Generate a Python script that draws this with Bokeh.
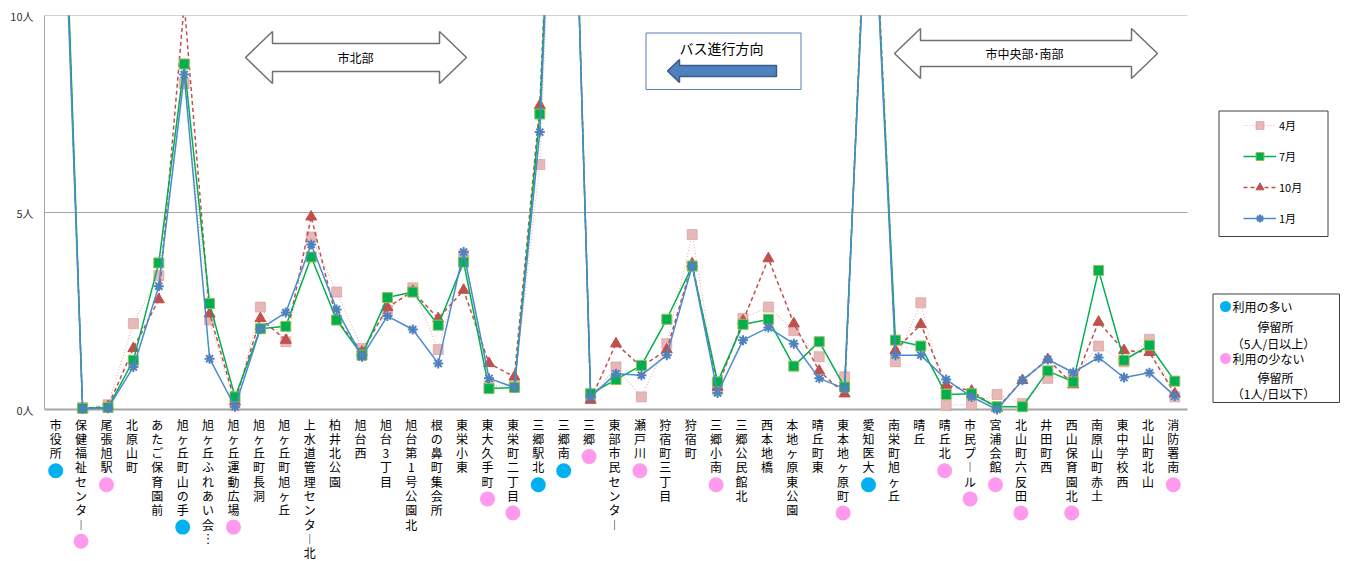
from bokeh.plotting import figure
from bokeh.models import Range1d, LinearAxis, FixedTicker, Legend, LegendItem
from bokeh.core.properties import value
from bokeh.embed import file_html
from bokeh.resources import INLINE

# ---------------- data ----------------
stops = ["市役所", "保健福祉センター", "尾張旭駅", "北原山町", "あたご保育園前",
         "旭ヶ丘町山の手", "旭ヶ丘ふれあい会…", "旭ヶ丘運動広場", "旭ヶ丘町長洞", "旭ヶ丘町旭ヶ丘",
         "上水道管理センター北", "柏井北公園", "旭台西", "旭台3丁目", "旭台第1号公園北",
         "根の鼻町集会所", "東栄小東", "東大久手町", "東栄町二丁目", "三郷駅北",
         "三郷南", "三郷", "東部市民センター", "瀬戸川", "狩宿町三丁目",
         "狩宿町", "三郷小南", "三郷公民館北", "西本地橋", "本地ヶ原東公園",
         "晴丘町東", "東本地ヶ原町", "愛知医大", "南栄町旭ヶ丘", "晴丘",
         "晴丘北", "市民プール", "宮浦会館", "北山町六反田", "井田町西",
         "西山保育園北", "南原山町赤土", "東中学校西", "北山町北山", "消防署南"]

apr = [18.5, 0.05, 0.12, 2.18, 3.40, 8.27, 2.27, 0.10, 2.60, 1.72,
       4.38, 2.98, 1.55, 2.52, 3.09, 1.52, 3.91, 0.60, 0.60, 6.22,
       21.5, 0.28, 1.08, 0.32, 1.67, 4.44, 0.50, 2.31, 2.60, 2.00,
       1.34, 0.83, 15.0, 1.21, 2.71, 0.11, 0.13, 0.38, 0.15, 0.79,
       0.85, 1.61, 1.21, 1.78, 0.32]
jul = [19.0, 0.03, 0.05, 1.25, 3.72, 8.77, 2.69, 0.32, 2.05, 2.11,
       3.87, 2.27, 1.38, 2.84, 2.98, 2.14, 3.74, 0.53, 0.56, 7.50,
       22.0, 0.40, 0.76, 1.12, 2.29, 3.64, 0.70, 2.16, 2.29, 1.10,
       1.72, 0.57, 15.0, 1.76, 1.61, 0.38, 0.40, 0.07, 0.07, 0.98,
       0.70, 3.53, 1.25, 1.63, 0.72]
octo = [18.5, 0.02, 0.08, 1.55, 2.79, 10.3, 2.43, 0.20, 2.31, 1.76,
        4.89, 2.28, 1.46, 2.59, 3.00, 2.31, 3.03, 1.17, 0.83, 7.72,
        22.5, 0.24, 1.67, 1.08, 1.52, 3.70, 0.57, 2.25, 3.83, 2.18,
        0.98, 0.40, 15.5, 1.50, 2.16, 0.62, 0.47, 0.03, 0.74, 1.27,
        0.63, 2.22, 1.50, 1.45, 0.40]
jan = [18.0, 0.02, 0.03, 1.08, 3.13, 8.50, 1.29, 0.07, 2.05, 2.46,
       4.19, 2.54, 1.34, 2.37, 2.03, 1.17, 4.00, 0.79, 0.56, 7.04,
       22.0, 0.32, 0.91, 0.87, 1.38, 3.64, 0.42, 1.76, 2.08, 1.67,
       0.79, 0.53, 15.0, 1.38, 1.38, 0.76, 0.32, 0.00, 0.74, 1.27,
       0.94, 1.32, 0.81, 0.93, 0.34]

month_labels = ["4月", "7月", "10月", "1月"]
y_ticks = [0, 5, 10]
y_tick_labels = ["0人", "5人", "10人"]

heavy_stops = ["市役所", "旭ヶ丘町山の手", "三郷駅北", "三郷南", "愛知医大"]
light_stops = ["保健福祉センター", "尾張旭駅", "旭ヶ丘運動広場", "東大久手町", "東栄町二丁目",
               "三郷", "瀬戸川", "三郷小南", "東本地ヶ原町", "晴丘北", "市民プール",
               "宮浦会館", "北山町六反田", "西山保育園北", "消防署南"]
legend2_lines = [["利用の多い", "停留所", "（5人/日以上）"],
                 ["利用の少ない", "停留所", "（1人/日以下）"]]
region_labels = ["市北部", "市中央部･南部"]
direction_label = "バス進行方向"

# ---------------- layout helpers ----------------
W, H = 1346, 561
PX, PY = 25.4, 39.4          # pixels per category / per person
FRAME_L, FRAME_T, FRAME_B = 44, 15, H
Y0_PAGE = 409
FONT = value("Noto Sans CJK JP")
PITCH = 14.1


def X(px):
    return -0.5 + (px - FRAME_L) / PX


def Y(py):
    return (Y0_PAGE - py) / PY


p = figure(width=W, height=H, output_backend="svg", toolbar_location=None,
           x_range=Range1d(-0.5, X(W)),
           y_range=Range1d(Y(FRAME_B), 10),
           min_border_left=FRAME_L, min_border_right=0, min_border_top=FRAME_T,
           min_border_bottom=0, x_axis_type=None, y_axis_type=None)
p.outline_line_color = None
p.background_fill_color = "white"
p.border_fill_color = "white"

yaxis = LinearAxis(ticker=FixedTicker(ticks=y_ticks), bounds=(0, 10),
                   axis_line_color="#A6A6A6", axis_line_width=1,
                   major_tick_line_color=None, minor_tick_line_color=None,
                   major_tick_out=0, major_tick_in=0, minor_tick_out=0,
                   major_label_standoff=11,
                   major_label_overrides={t: l for t, l in zip(y_ticks, y_tick_labels)},
                   major_label_text_font="Noto Sans CJK JP",
                   major_label_text_font_size="11px",
                   major_label_text_color="#333333")
p.add_layout(yaxis, "left")

n = len(stops)
xs = list(range(n))
x_end = n - 0.5

# grid lines & baseline
gy = y_ticks[1:]
p.segment(x0=[-0.5] * len(gy), y0=gy, x1=[x_end] * len(gy), y1=gy,
          line_color="#A6A6A6", line_width=1)
p.segment(x0=[-0.5], y0=[0], x1=[x_end], y1=[0], line_color="#A6A6A6", line_width=2)

# ---------------- series ----------------
l4 = p.line(xs, apr, line_color="#E6B9B8", line_width=1.2, line_dash="1 2")
s4 = p.scatter(xs, apr, marker="square", size=10, fill_color="#E6B9B8",
               line_color="#D99694", line_alpha=0.6, line_width=1)
l10 = p.line(xs, octo, line_color="#C0504D", line_width=1.5, line_dash="4 3")
s10 = p.scatter(xs, octo, marker="triangle", size=11, fill_color="#C0504D",
                line_color="#C0504D")
l7 = p.line(xs, jul, line_color="#00B050", line_width=1.5)
s7 = p.scatter(xs, jul, marker="square", size=10, fill_color="#00B050",
               line_color="#9BBB59", line_width=1)
l1 = p.line(xs, jan, line_color="#4A8AD0", line_width=1.5)
s1 = p.scatter(xs, jan, marker="asterisk", size=10, line_color="#4F81BD", line_width=2)

# ---------------- category labels (vertical) ----------------
vert_map = {"ー": "︱", "…": "︙"}
vlabels = ["\n".join(vert_map.get(c, c) for c in s) for s in stops]
p.text(x=xs, y=[Y(415)] * n, text=vlabels, x_offset=-1.5,
       text_align="center", text_baseline="top", text_font=FONT,
       text_font_size="12px", text_line_height=0.841, text_color="#000000")

# usage markers under labels
DX = -1.5 / PX


def marker_y(name):
    return Y(424 + (len(name) - 1) * PITCH + 18)


hx = [stops.index(s) + DX for s in heavy_stops]
hy = [marker_y(s) for s in heavy_stops]
lx = [stops.index(s) + DX for s in light_stops]
ly = [marker_y(s) for s in light_stops]
p.scatter(hx, hy, size=15, fill_color="#00B0F0", line_color=None)
p.scatter(lx, ly, size=15, fill_color="#FF99EE", line_color=None)


# ---------------- region double arrows ----------------
def double_arrow(l, r, cy, hh, sh, hw):
    pts = [(l, cy), (l + hw, cy - hh), (l + hw, cy - sh), (r - hw, cy - sh), (r - hw, cy - hh),
           (r, cy), (r - hw, cy + hh), (r - hw, cy + sh), (l + hw, cy + sh), (l + hw, cy + hh)]
    return [X(a) for a, b in pts], [Y(b) for a, b in pts]


ax, ay = double_arrow(245, 466, 57, 26, 14, 27)
p.patch(ax, ay, fill_color="white", line_color="#707070", line_width=1.5)
bx, by = double_arrow(894, 1157, 53, 25, 13, 26)
p.patch(bx, by, fill_color="white", line_color="#707070", line_width=1.5)
p.text(x=[X(355), X(1024)], y=[Y(57), Y(53)], text=region_labels,
       text_align="center", text_baseline="middle", text_font=FONT,
       text_font_size="12px", text_color="#000000")

# ---------------- bus direction box ----------------
p.quad(left=[X(645.5)], right=[X(800.5)], top=[Y(32.5)], bottom=[Y(89)],
       fill_color="white", line_color="#5B7DB5", line_width=1)
p.text(x=[X(721)], y=[Y(47)], text=[direction_label], text_align="center",
       text_baseline="middle", text_font=FONT, text_font_size="14px", text_color="#000000")
arr = [(667, 70.5), (679, 59), (679, 65), (776, 65), (776, 76), (679, 76), (679, 82)]
p.patch([X(a) for a, b in arr], [Y(b) for a, b in arr], fill_color="#4F81BD",
        line_color="#385D8A", line_width=1.5)

# ---------------- legend 1 (months) ----------------
p.quad(left=[X(1218.5)], right=[X(1327.5)], top=[Y(110.5)], bottom=[Y(236)],
       fill_color="white", line_color="#404040", line_width=1)
legend = Legend(items=[LegendItem(label=month_labels[0], renderers=[l4, s4]),
                       LegendItem(label=month_labels[1], renderers=[l7, s7]),
                       LegendItem(label=month_labels[2], renderers=[l10, s10]),
                       LegendItem(label=month_labels[3], renderers=[l1, s1])],
                location=(1239 - FRAME_L, FRAME_B - 232),
                padding=4, spacing=11, glyph_width=33, glyph_height=20,
                label_standoff=3, label_text_font="Noto Sans CJK JP",
                label_text_font_size="11px", label_text_color="#000000",
                background_fill_alpha=0, border_line_alpha=0, margin=0)
p.add_layout(legend)

# ---------------- legend 2 (usage) ----------------
p.quad(left=[X(1212.5)], right=[X(1339)], top=[Y(293.5)], bottom=[Y(402)],
       fill_color="white", line_color="#404040", line_width=1)
p.scatter([X(1225), X(1225)], [Y(306), Y(358)], size=11,
          fill_color=["#00B0F0", "#FF99EE"], line_color=None)
p.text(x=[X(1232), X(1232)], y=[Y(306), Y(358)],
       text=[legend2_lines[0][0], legend2_lines[1][0]],
       text_align="left", text_baseline="middle", text_font=FONT,
       text_font_size="12px", text_color="#000000")
p.text(x=[X(1275), X(1273), X(1275), X(1273)],
       y=[Y(326), Y(343), Y(377), Y(393)],
       text=[legend2_lines[0][1], legend2_lines[0][2], legend2_lines[1][1], legend2_lines[1][2]],
       text_align="center", text_baseline="middle", text_font=FONT,
       text_font_size="12px", text_color="#000000")

open("out.html", "w").write(file_html(p, INLINE))
